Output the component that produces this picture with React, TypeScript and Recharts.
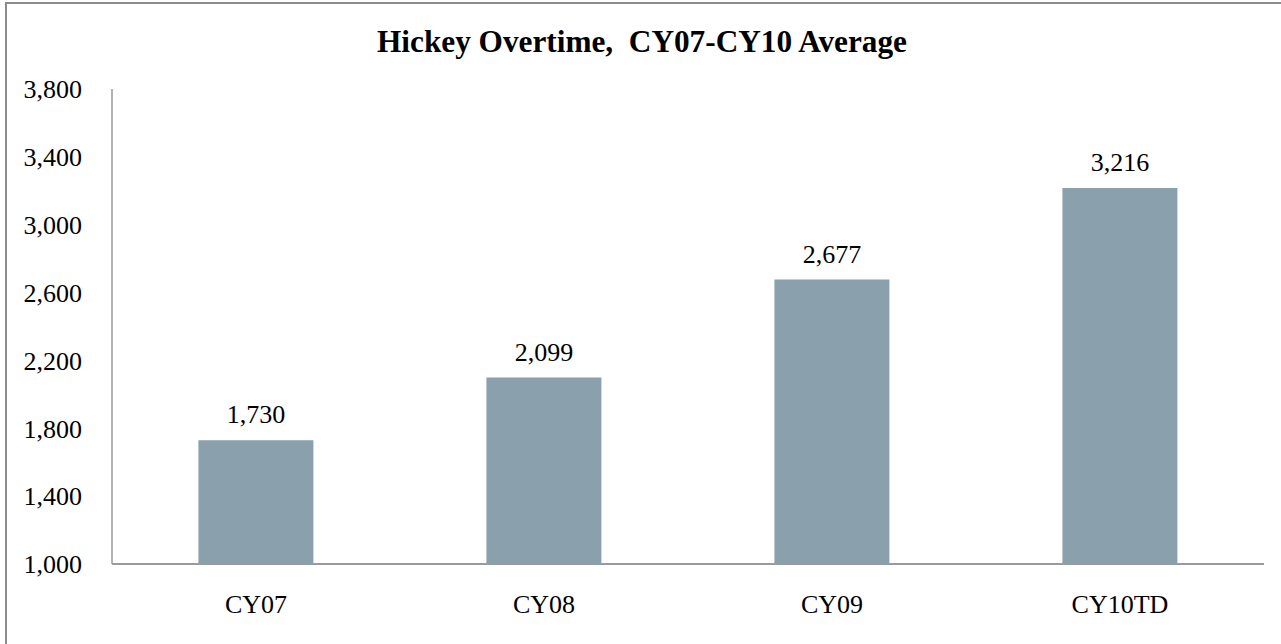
import React from 'react';
import { BarChart, Bar, XAxis, YAxis, LabelList } from 'recharts';

const categories = ['CY07', 'CY08', 'CY09', 'CY10TD'];
const overtime = [1730, 2099, 2677, 3216];
const yTicks = [1000, 1400, 1800, 2200, 2600, 3000, 3400, 3800];

const chartTitle = 'Hickey Overtime,\u00a0 CY07-CY10 Average';

const FONT = '"Liberation Serif", "Times New Roman", serif';

const fmt = (v: number) => v.toLocaleString('en-US');

const App: React.FC = () => {
  const chartData = categories.map((name, i) => ({ name, value: overtime[i] }));

  return (
    <div
      style={{
        position: 'absolute',
        left: 0,
        top: 0,
        width: 1281,
        height: 644,
        overflow: 'hidden',
        background: '#fff',
        fontFamily: FONT,
      }}
    >
      {/* outer frame, right/bottom edges fall outside the picture */}
      <div
        style={{
          position: 'absolute',
          left: 5,
          top: 2,
          width: 1300,
          height: 700,
          border: '2px solid #8c8c8c',
          boxSizing: 'border-box',
        }}
      />
      <svg width={1281} height={80} style={{ position: 'absolute', left: 0, top: 0 }}>
        <text
          x={642}
          y={52}
          textAnchor="middle"
          fontFamily={FONT}
          fontSize={32}
          fontWeight="bold"
          fill="#000"
          textLength={530}
          lengthAdjust="spacingAndGlyphs"
        >
          {chartTitle}
        </text>
      </svg>
      <div style={{ position: 'absolute', left: 0, top: 0 }}>
        <BarChart
          width={1281}
          height={644}
          data={chartData}
          margin={{ top: 89, right: 17, left: 0, bottom: 0 }}
          barCategoryGap="30%"
        >
          <XAxis
            dataKey="name"
            height={80}
            axisLine={{ stroke: '#9a9a9a', strokeWidth: 2 }}
            tickLine={false}
            tickSize={0}
            tickMargin={31}
            tick={{ fontSize: 26, fill: '#000', fontFamily: FONT }}
            interval={0}
          />
          <YAxis
            width={112}
            domain={[1000, 3800]}
            ticks={yTicks}
            interval={0}
            axisLine={{ stroke: '#9a9a9a', strokeWidth: 1.5 }}
            tickLine={false}
            tickSize={0}
            tickMargin={30}
            tickFormatter={fmt}
            tick={{ fontSize: 26, fill: '#000', fontFamily: FONT }}
          />
          <Bar dataKey="value" fill="#8aa0ac" isAnimationActive={false}>
            <LabelList
              dataKey="value"
              position="top"
              offset={17}
              formatter={(v: any) => fmt(Number(v))}
              style={{ fontSize: 26, fill: '#000', fontFamily: FONT }}
            />
          </Bar>
        </BarChart>
      </div>
    </div>
  );
};

export default App;
